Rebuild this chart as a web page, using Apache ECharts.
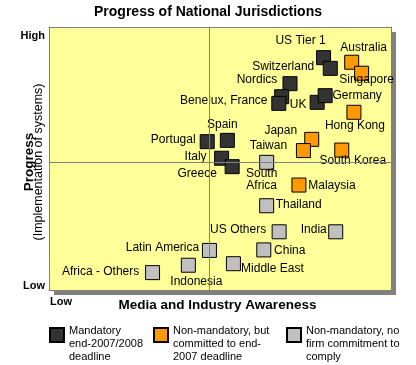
<!DOCTYPE html>
<html>
<head>
<meta charset="utf-8">
<script src="https://cdn.jsdelivr.net/npm/echarts@6/dist/echarts.min.js"></script>
<style>
html,body{margin:0;padding:0;background:#fff;}
#chart{width:416px;height:365px;}
</style>
</head>
<body>
<div id="chart"></div>
<script>
// ---- Data ----
const seriesNames = ['Mandatory\nend-2007/2008\ndeadline', 'Non-mandatory, but\ncommitted to end-\n2007 deadline', 'Non-mandatory, no\nfirm commitment to\ncomply'];

const darkNames = ['US Tier 1', 'Switzerland', 'Nordics', 'Benelux', 'France', 'UK', 'Germany', 'Portugal', 'Spain', 'Italy', 'Greece'];
const darkX = [85.9, 88.0, 75.4, 72.8, 71.9, 83.9, 86.4, 49.5, 55.8, 54.0, 57.3];
const darkY = [91.0, 86.8, 80.8, 75.7, 73.1, 73.5, 76.1, 58.1, 58.6, 51.6, 48.3];

const orangeNames = ['Australia', 'Singapore', 'Hong Kong', 'Japan', 'Taiwan', 'South Korea', 'Malaysia'];
const orangeX = [94.7, 97.8, 95.4, 82.2, 79.6, 91.6, 78.2];
const orangeY = [89.2, 84.9, 69.6, 59.0, 54.6, 54.8, 41.1];

const grayNames = ['South Africa', 'Thailand', 'US Others', 'India', 'China', 'Middle East', 'Latin America', 'Indonesia', 'Africa - Others'];
const grayX = [68.1, 68.1, 72.0, 89.7, 67.2, 57.7, 50.2, 43.6, 32.4];
const grayY = [50.0, 33.0, 22.8, 22.8, 15.7, 10.3, 15.5, 9.7, 6.8];

const xDivider = 50;
const yDivider = 50;

// ---- Label layout (offsets from marker centre, px) ----
const labelLayout = {
  'US Tier 1': {off: [-23, -17]},
  'Switzerland': {off: [-47, -2]},
  'Nordics': {off: [-33, -4]},
  'France': {off: [-55, -3], text: 'Benelux, France'},
  'UK': {off: [-19, 2]},
  'Germany': {off: [32, 0]},
  'Portugal': {off: [-34, -2]},
  'Spain': {off: [-5, -16]},
  'Italy': {off: [-26, -2]},
  'Greece': {off: [-35, 7]},
  'Australia': {off: [12, -15]},
  'Singapore': {off: [5, 6]},
  'Hong Kong': {off: [1, 13]},
  'Japan': {off: [-31, -9]},
  'Taiwan': {off: [-35, -5]},
  'South Korea': {off: [11, 11]},
  'Malaysia': {off: [33, 1]},
  'South Africa': {off: [-5, 17.5], text: 'South\nAfrica'},
  'Thailand': {off: [32, -1]},
  'US Others': {off: [-41, -2]},
  'India': {off: [-22, -2]},
  'China': {off: [26, 1]},
  'Middle East': {off: [39, 5]},
  'Latin America': {off: [-47, -3]},
  'Indonesia': {off: [8, 16]},
  'Africa - Others': {off: [-52, -1]}
};

const FONT = '"Liberation Sans", Arial, sans-serif';
const GRAYLINE = '#808080';

function buildData(names, xs, ys) {
  return names.map(function (n, i) {
    const l = labelLayout[n];
    return {
      name: n,
      value: [xs[i], ys[i]],
      label: l ? {
        show: true,
        position: 'inside',
        offset: l.off,
        formatter: l.text || n
      } : {show: false}
    };
  });
}

function makeSeries(name, color, data, extra) {
  return Object.assign({
    name: name,
    type: 'scatter',
    symbol: 'rect',
    symbolSize: 14,
    itemStyle: {color: color, borderColor: '#000', borderWidth: 1, opacity: 1},
    label: {color: '#000', fontSize: 12, fontFamily: FONT, lineHeight: 12},
    emphasis: {disabled: true},
    z: 3,
    data: data
  }, extra || {});
}

const chart = echarts.init(document.getElementById('chart'), null, {renderer: 'canvas'});

const legendBase = {
  orient: 'horizontal',
  top: 307,
  padding: 0,
  itemWidth: 14,
  itemHeight: 14,
  selectedMode: false,
  formatter: function (n) { return '{s| }\n' + n; },
  textStyle: {fontSize: 11, fontFamily: FONT, color: '#000', lineHeight: 13,
    rich: {s: {fontSize: 4, lineHeight: 17}}}
};

const hiddenAxis = {
  type: 'value',
  axisLine: {show: true, onZero: false, lineStyle: {color: GRAYLINE, width: 1}},
  axisTick: {show: false}, axisLabel: {show: false}, splitLine: {show: false}
};

chart.setOption({
  animation: false,
  backgroundColor: '#fff',
  title: {
    text: 'Progress of National Jurisdictions',
    left: 'center',
    top: 5,
    padding: 0,
    textStyle: {fontSize: 14, fontWeight: 'bold', fontFamily: FONT, color: '#000'}
  },
  grid: {
    left: 49, right: 25, top: 27, bottom: 75,
    show: true,
    backgroundColor: '#FFFF99',
    borderWidth: 0,
    shadowColor: GRAYLINE,
    shadowBlur: 0,
    shadowOffsetX: 5,
    shadowOffsetY: 5
  },
  xAxis: [
    Object.assign({}, hiddenAxis, {position: 'bottom', min: 0, max: 107}),
    Object.assign({}, hiddenAxis, {position: 'top', min: 0, max: 107})
  ],
  yAxis: [
    Object.assign({}, hiddenAxis, {position: 'left', min: 0, max: 103}),
    Object.assign({}, hiddenAxis, {position: 'right', min: 0, max: 103})
  ],
  legend: [
    Object.assign({}, legendBase, {left: 49, data: [seriesNames[0]]}),
    Object.assign({}, legendBase, {left: 153, data: [seriesNames[1]]}),
    Object.assign({}, legendBase, {left: 286, data: [seriesNames[2]]})
  ],
  graphic: [
    {type: 'text', silent: true, style: {text: 'High', x: 45, y: 36, align: 'right', verticalAlign: 'middle', font: 'bold 11px ' + FONT, fill: '#000'}},
    {type: 'text', silent: true, style: {text: 'Low', x: 45, y: 286, align: 'right', verticalAlign: 'middle', font: 'bold 11px ' + FONT, fill: '#000'}},
    {type: 'text', silent: true, style: {text: 'Low', x: 50, y: 302, align: 'left', verticalAlign: 'middle', font: 'bold 11px ' + FONT, fill: '#000'}},
    {type: 'text', silent: true, style: {text: 'Media and Industry Awareness', x: 217.5, y: 305, align: 'center', verticalAlign: 'middle', font: 'bold 13.5px ' + FONT, fill: '#000'}},
    {type: 'text', silent: true, x: 29, y: 162, rotation: Math.PI / 2, style: {text: 'Progress', x: 0, y: 0, align: 'center', verticalAlign: 'middle', font: 'bold 13.5px ' + FONT, fill: '#000'}},
    {type: 'text', silent: true, x: 39, y: 162, rotation: Math.PI / 2, style: {text: '(Implementation of systems)', x: 0, y: 0, align: 'center', verticalAlign: 'middle', font: '12.5px ' + FONT, fill: '#000'}}
  ],
  series: [
    {
      name: 'dividers',
      type: 'scatter',
      data: [],
      z: 1,
      silent: true,
      markLine: {
        silent: true,
        symbol: 'none',
        animation: false,
        label: {show: false},
        lineStyle: {color: GRAYLINE, width: 1, type: 'solid'},
        data: [{xAxis: xDivider}, {yAxis: yDivider}]
      }
    },
    makeSeries(seriesNames[0], '#333333', buildData(darkNames, darkX, darkY)),
    makeSeries(seriesNames[1], '#FF9900', buildData(orangeNames, orangeX, orangeY)),
    makeSeries(seriesNames[2], '#C0C0C0', buildData(grayNames, grayX, grayY))
  ]
});
</script>
</body>
</html>
